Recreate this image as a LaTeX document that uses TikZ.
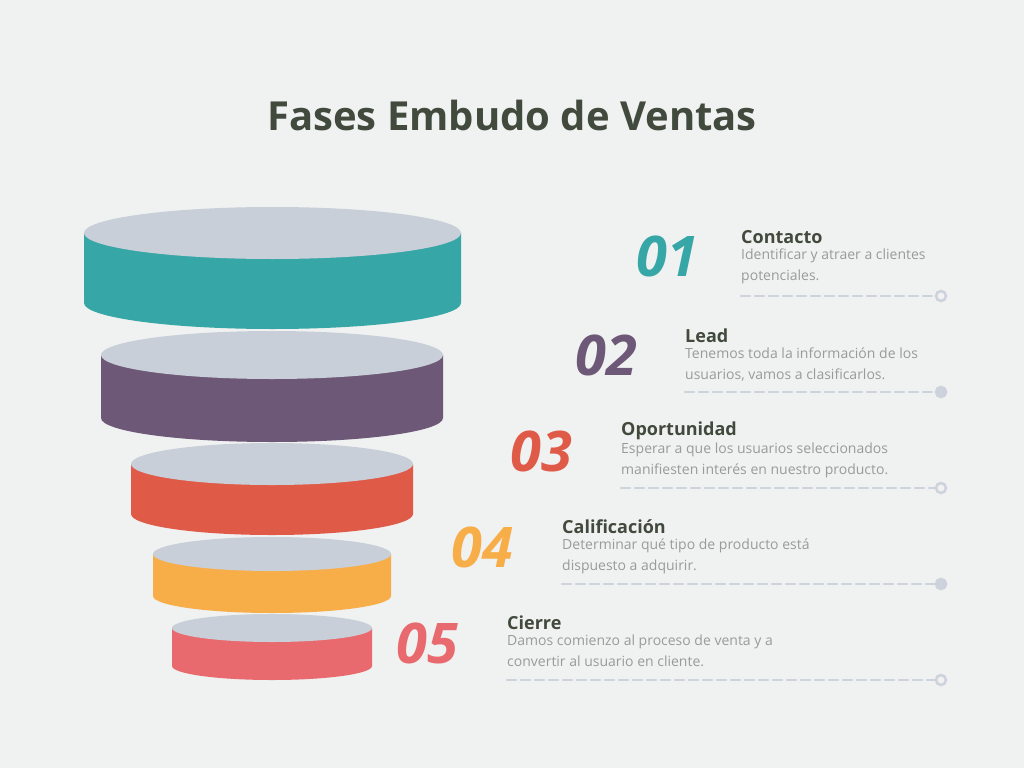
\documentclass[tikz,border=0pt]{standalone}
\usepackage{fontspec}
\setmainfont{Open Sans}
\definecolor{bg}{HTML}{F0F1F1}
\definecolor{topc}{HTML}{C8CFD8}
\definecolor{ttl}{HTML}{414A3D}
\definecolor{desc}{HTML}{9A9A9A}
\definecolor{dl}{HTML}{CDD3DC}
\definecolor{c1}{HTML}{37A6A6}
\definecolor{c2}{HTML}{6D5878}
\definecolor{c3}{HTML}{E05A48}
\definecolor{c4}{HTML}{F8AE48}
\definecolor{c5}{HTML}{E8696E}
\tikzset{
 num/.style={anchor=west,font=\fontsize{56}{56}\selectfont\bfseries\itshape,inner sep=0},
 head/.style={anchor=west,font=\fontsize{18}{20}\selectfont\bfseries,text=ttl,inner sep=0},
 dsc/.style={anchor=north west,font=\fontsize{14}{21}\selectfont,text=desc,inner sep=0,align=left},
 dline/.style={dl,line width=2.5pt,dash pattern=on 9pt off 5pt,line cap=round},
}
\newcommand{\cyl}[6]{% cx cy rx ry h color
 \fill[#6] (#1-#3,#2) -- (#1-#3,#2+#5) arc[start angle=180,end angle=360,x radius=#3,y radius=-#4] -- (#1+#3,#2) -- cycle;
 \fill[topc] (#1,#2) ellipse[x radius=#3,y radius=#4];}
\newcommand{\stage}[9]{%
 \node[num,text=#4] (n#3) at (#1,#2) {#3};
 \node[head] (h#3) at (#5,#6) {#7};
 \node[dsc] (d#3) at (#5,#6+12) {#8};
 \coordinate (l#3) at (#5,#9);
 \coordinate (e#3) at (935,#9);
}
\begin{document}
\begin{tikzpicture}[x=1pt,y=-1pt]
\fill[bg] (0,0) rectangle (1024,768);
\node[font=\fontsize{40}{40}\selectfont\bfseries,text=ttl] (title) at (512,115) {Fases Embudo de Ventas};
\cyl{272.5}{233}{188.5}{26}{70}{c1}
\cyl{272}{355}{171}{24}{63}{c2}
\cyl{272}{464}{141}{21}{50}{c3}
\cyl{272}{554}{119}{17}{42}{c4}
\cyl{272}{628}{100}{14}{38}{c5}
\stage{636}{256}{01}{c1}{741}{237}{Contacto}{Identificar y atraer a clientes\\potenciales.}{296}
\stage{575}{355}{02}{c2}{685}{336}{Lead}{Tenemos toda la información de los\\usuarios, vamos a clasificarlos.}{392}
\stage{510}{451}{03}{c3}{621}{431}{Oportunidad}{Esperar a que los usuarios seleccionados\\manifiesten interés en nuestro producto.}{488}
\stage{451}{547}{04}{c4}{562}{527}{Calificación}{Determinar qué tipo de producto está\\dispuesto a adquirir.}{584}
\stage{396}{643}{05}{c5}{507}{623}{Cierre}{Damos comienzo al proceso de venta y a\\convertir al usuario en cliente.}{680}
\foreach \i/\f in {01/bg,02/dl,03/bg,04/dl,05/bg}{
 \draw[dline] (l\i) -- (e\i);
 \node[circle,draw=dl,line width=2.5pt,fill=\f,minimum size=10pt,inner sep=0] (o\i) at ([xshift=6pt]e\i) {};
}
\end{tikzpicture}
\end{document}
